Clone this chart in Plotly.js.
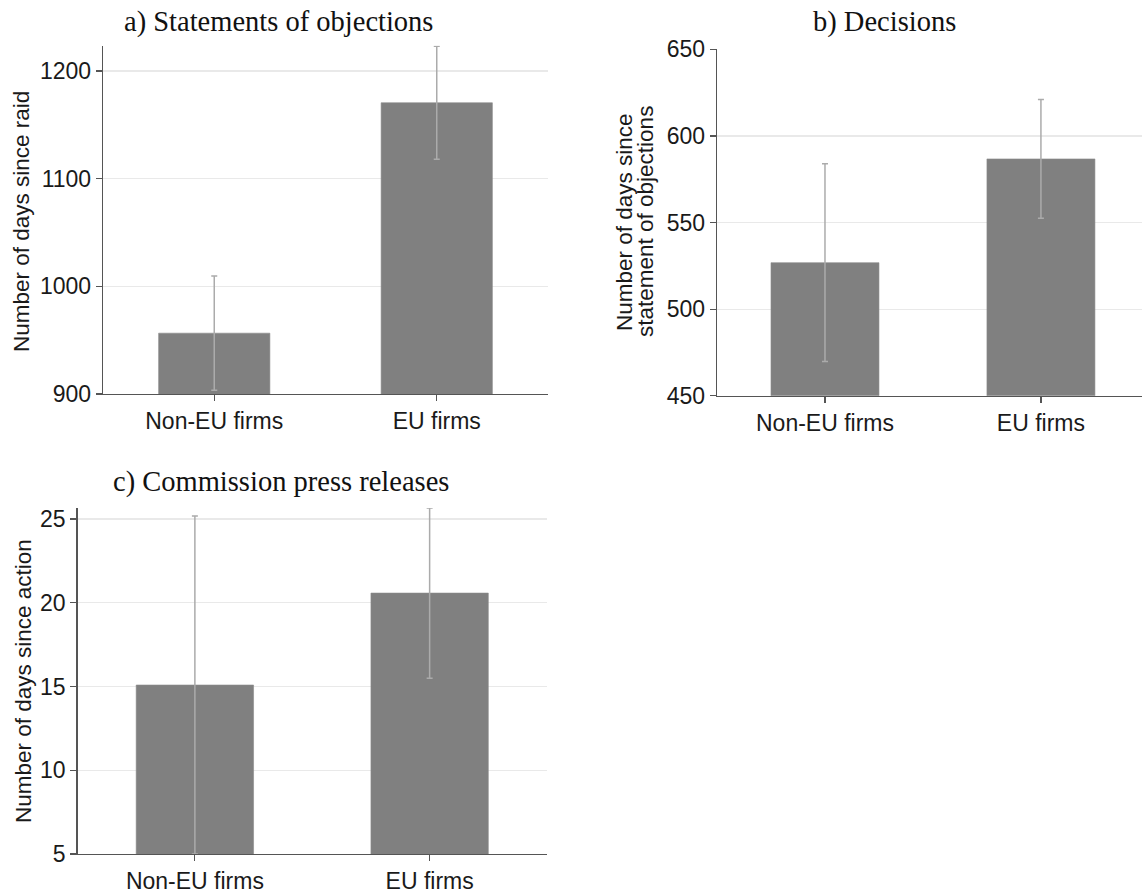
<!DOCTYPE html>
<html>
<head>
<meta charset="utf-8">
<script src="https://cdn.plot.ly/plotly-3.0.1.min.js"></script>
<style>html,body{margin:0;padding:0;background:#fff;}#chart{width:1142px;height:893px;}</style>
</head>
<body>
<div id="chart"></div>
<script>
// ---- data ----
const categories = ['Non-EU firms', 'EU firms'];
const soMean = [956.5, 1170.5];   // a) Statements of objections
const soErr  = [53.0, 52.5];
const decMean = [526.8, 586.7];   // b) Decisions
const decErr  = [57.1, 34.3];
const prMean = [15.09, 20.58];    // c) Commission press releases
const prErr  = [10.09, 5.08];
const soTicks = [900, 1000, 1100, 1200];
const decTicks = [450, 500, 550, 600, 650];
const prTicks = [5, 10, 15, 20, 25];
const titles = ['a) Statements of objections', 'b) Decisions', 'c) Commission press releases'];
const yTitles = ['Number of days since raid', 'Number of days since', 'statement of objections', 'Number of days since action'];

// ---- styling ----
const W = 1142, H = 893;
const px = v => v / W;
const py = v => (H - v) / H;
const sans = 'Liberation Sans, Arial, sans-serif';
const serif = 'Liberation Serif, Times New Roman, serif';
const barColor = '#808080';
const errStyle = {type: 'data', visible: true, color: '#ababab', thickness: 1.5, width: 3};
const tickSize = 23, ytSize = 22.5, titleSize = 28.5;

function barTrace(y, err, xa, ya) {
  return {
    type: 'bar', x: categories, y: y, width: 0.5,
    xaxis: xa, yaxis: ya,
    marker: {color: barColor, line: {color: '#8a8a8a', width: 0.6}},
    error_y: Object.assign({array: err}, errStyle),
    hoverinfo: 'x+y', showlegend: false
  };
}

const data = [
  barTrace(soMean, soErr, 'x', 'y'),
  barTrace(decMean, decErr, 'x2', 'y2'),
  barTrace(prMean, prErr, 'x3', 'y3')
];

function xAxis(domain, range, anchor) {
  return {
    domain: domain, range: range, anchor: anchor, type: 'category',
    showline: true, linecolor: '#555', linewidth: 1.3,
    ticks: 'outside', ticklen: 6, tickcolor: '#555', tickwidth: 1.2,
    showgrid: false, zeroline: false, fixedrange: true,
    tickfont: {family: sans, size: tickSize, color: '#1a1a1a'}
  };
}
function yAxis(domain, range, tickvals, anchor) {
  return {
    domain: domain, range: range, anchor: anchor,
    tickvals: tickvals, ticktext: tickvals.map(String),
    showline: true, linecolor: '#555', linewidth: 1.3,
    ticks: 'outside', ticklen: 6, tickcolor: '#555', tickwidth: 1.2,
    showgrid: true, gridcolor: '#e9e9e9', gridwidth: 1.2,
    zeroline: false, fixedrange: true,
    tickfont: {family: sans, size: tickSize, color: '#1a1a1a'}
  };
}

function ann(text, x, y, font, angle) {
  return {text: text, x: px(x), y: py(y), xref: 'paper', yref: 'paper', showarrow: false,
          textangle: angle || 0, xanchor: 'center', yanchor: 'middle', font: font};
}
const titleFont = {family: serif, size: titleSize, color: '#111'};
const ytFont = {family: sans, size: ytSize, color: '#1a1a1a'};

const layout = {
  width: W, height: H,
  margin: {l: 0, r: 0, t: 0, b: 0},
  paper_bgcolor: '#fff', plot_bgcolor: '#fff',
  showlegend: false, bargap: 0.5,
  xaxis: xAxis([px(103), px(548)], [-0.5, 1.5], 'y'),
  yaxis: yAxis([py(394), py(45.7)], [900, 1223.5], soTicks, 'x'),
  xaxis2: xAxis([px(717), 1], [-0.5, 1.468], 'y2'),
  yaxis2: yAxis([py(395.7), py(49.3)], [450, 650], decTicks, 'x2'),
  xaxis3: xAxis([px(77.5), px(547)], [-0.5, 1.5], 'y3'),
  yaxis3: yAxis([py(854), py(508)], [5, 25.66], prTicks, 'x3'),
  annotations: [
    ann(titles[0], 278, 22, titleFont),
    ann(titles[1], 884, 22, titleFont),
    ann(titles[2], 281, 482, titleFont),
    ann(yTitles[0], 22, 222, ytFont, -90),
    ann(yTitles[1], 625, 222, ytFont, -90),
    ann(yTitles[2], 646, 222, ytFont, -90),
    ann(yTitles[3], 23, 681, ytFont, -90)
  ]
};

Plotly.newPlot('chart', data, layout, {staticPlot: true, displayModeBar: false});
</script>
</body>
</html>
